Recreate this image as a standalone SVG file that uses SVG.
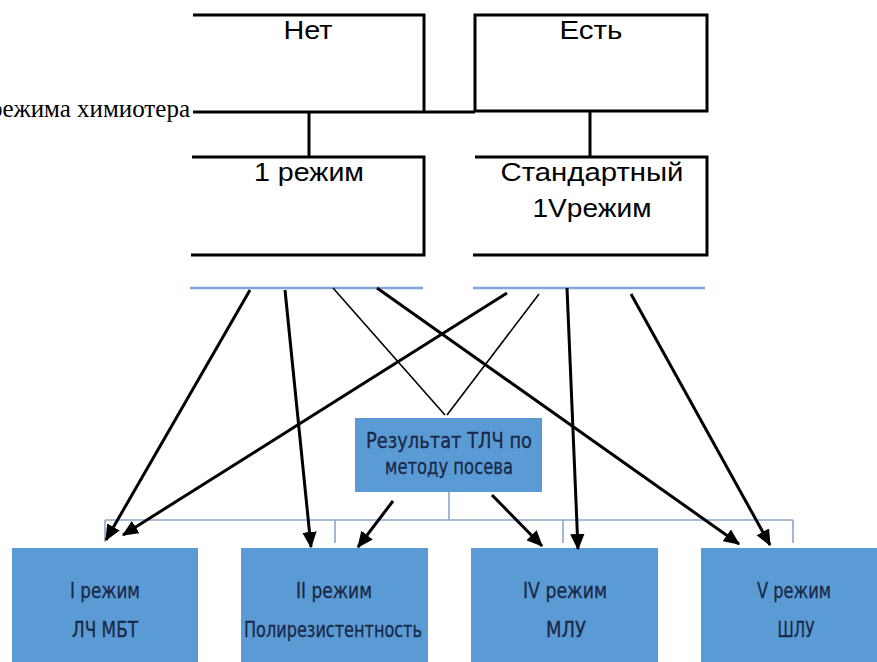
<svg xmlns="http://www.w3.org/2000/svg" width="877" height="662" viewBox="0 0 877 662">
<defs>
<marker id="ah" markerWidth="5.4" markerHeight="4.8" refX="5" refY="2.4" orient="auto" markerUnits="strokeWidth">
<path d="M0,0 L5.4,2.4 L0,4.8 Z" fill="#000"/>
</marker>
</defs>
<style>
.blk{fill:none;stroke:#000;stroke-width:3}
.top{font-family:"Liberation Sans",Arial,sans-serif;font-size:26px;fill:#000;text-anchor:middle}
.bl{fill:#5B9BD5}
.bt{font-family:"Liberation Sans Narrow","DejaVu Sans Condensed","Liberation Sans",Arial,sans-serif;font-size:22px;fill:#1A2847;stroke:#1A2847;stroke-width:0.3;text-anchor:middle}
.thin{fill:none;stroke:#8BA6C9;stroke-width:1.6}
.arr{fill:none;stroke:#000;stroke-width:3;marker-end:url(#ah)}
.ln{fill:none;stroke:#000;stroke-width:1.6}
.lb{stroke:#7FA8D8;stroke-width:2.5}
</style>
<rect width="877" height="662" fill="#fff"/>
<text x="190" y="117" text-anchor="end" font-family="'Liberation Serif','Times New Roman',serif" font-size="25" fill="#000">режима химиотера</text>
<g id="net">
<path class="blk" d="M193,15 H424 V112"/>
<text class="top" x="308" y="39" textLength="49" lengthAdjust="spacingAndGlyphs">Нет</text>
</g>
<g id="est">
<rect class="blk" x="475" y="15" width="232" height="96"/>
<text class="top" x="591" y="39" textLength="63" lengthAdjust="spacingAndGlyphs">Есть</text>
</g>
<g id="rezhim1">
<path class="blk" d="M192,157 H424 V255 H191"/>
<text class="top" x="309" y="181" textLength="110" lengthAdjust="spacingAndGlyphs">1 режим</text>
</g>
<g id="standart">
<path class="blk" d="M475,157 H707 V255 H473"/>
<text class="top" x="592" y="181" textLength="183" lengthAdjust="spacingAndGlyphs">Стандартный</text>
<text class="top" x="592" y="217" textLength="119" lengthAdjust="spacingAndGlyphs">1Vрежим</text>
</g>
<g id="strip">
<line class="lb" x1="190" y1="288" x2="423" y2="288"/>
<line class="lb" x1="473" y1="288" x2="705" y2="288"/>
</g>
<g id="result">
<rect class="bl" x="355" y="418" width="187" height="74"/>
<text class="bt" x="449" y="448" textLength="166" lengthAdjust="spacingAndGlyphs">Результат ТЛЧ по</text>
<text class="bt" x="449" y="474" textLength="128" lengthAdjust="spacingAndGlyphs">методу посева</text>
</g>
<g id="box1">
<rect class="bl" x="12" y="548" width="186" height="114"/>
<text class="bt" x="105" y="598" textLength="70" lengthAdjust="spacingAndGlyphs">I режим</text>
<text class="bt" x="105" y="637" textLength="66" lengthAdjust="spacingAndGlyphs">ЛЧ МБТ</text>
</g>
<g id="box2">
<rect class="bl" x="241" y="548" width="187" height="114"/>
<text class="bt" x="334" y="598" textLength="76" lengthAdjust="spacingAndGlyphs">II режим</text>
<text class="bt" x="333" y="637" textLength="178" lengthAdjust="spacingAndGlyphs">Полирезистентность</text>
</g>
<g id="box3">
<rect class="bl" x="471" y="548" width="187" height="114"/>
<text class="bt" x="565" y="598" textLength="84" lengthAdjust="spacingAndGlyphs">IV режим</text>
<text class="bt" x="566" y="637" textLength="40" lengthAdjust="spacingAndGlyphs">МЛУ</text>
</g>
<g id="box4">
<rect class="bl" x="701" y="548" width="176" height="114"/>
<text class="bt" x="794" y="598" textLength="74" lengthAdjust="spacingAndGlyphs">V режим</text>
<text class="bt" x="796" y="637" textLength="37" lengthAdjust="spacingAndGlyphs">ШЛУ</text>
</g>
<g id="connectors">
<path class="blk" d="M193,112 H475"/>
<path class="blk" d="M309,112 V157"/>
<path class="blk" d="M590,111 V157"/>
<path class="thin" d="M449,492 V520 M105,520 H793 M105,520 V542 M335,520 V543 M563,520 V543 M793,520 V543"/>
<path class="ln" d="M333,288 L445,415"/>
<path class="ln" d="M539,294 L447,415"/>
<path class="arr" d="M250,290 L106,540"/>
<path class="arr" d="M285,290 L311,547"/>
<path class="arr" d="M377,288 L739,544"/>
<path class="arr" d="M507,293 L123,535"/>
<path class="arr" d="M567,288 L578,549"/>
<path class="arr" d="M631,294 L770,545"/>
<path class="arr" d="M393,501 L358,547"/>
<path class="arr" d="M492,495 L542,546"/>
</g>
</svg>
